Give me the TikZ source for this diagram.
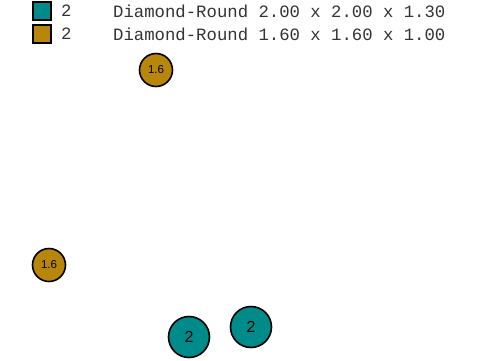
\documentclass[tikz,border=0pt]{standalone}
\usepackage{fontspec}
\setmainfont{Liberation Sans}
\newfontfamily\legendfont{Liberation Mono}
\definecolor{tealc}{HTML}{008B8B}
\definecolor{goldc}{HTML}{B8860B}
\begin{document}
\begin{tikzpicture}[x=1pt,y=-1pt,
  sw/.style={draw=black,line width=2.2pt,minimum size=17.8pt,inner sep=0pt},
  bigc/.style={circle,draw=black,line width=1.6pt,fill=tealc,minimum size=41pt,inner sep=0pt,font=\fontsize{16}{16}\selectfont},
  smallc/.style={circle,draw=black,line width=1.6pt,fill=goldc,minimum size=33pt,inner sep=0pt,font=\fontsize{11.5}{11.5}\selectfont},
  legtxt/.style={anchor=west,inner sep=0pt,font=\legendfont\fontsize{17.3}{17.3}\selectfont,text=black!80}]
\useasboundingbox (0,0) rectangle (480,360);
\node[sw,fill=tealc] (s1) at (42,11) {};
\node[sw,fill=goldc] (s2) at (42,34) {};
\node[legtxt] (n1) at (61,11) {2};
\node[legtxt] (n2) at (61,34) {2};
\node[legtxt] (t1) at (113,11) {Diamond-Round 2.00 x 2.00 x 1.30};
\node[legtxt] (t2) at (113,34) {Diamond-Round 1.60 x 1.60 x 1.00};
\node[smallc] (g1) at (156,70) {1.6};
\node[smallc] (g2) at (49,265) {1.6};
\node[bigc] (c1) at (189,337) {2};
\node[bigc] (c2) at (251,327) {2};
\end{tikzpicture}
\end{document}
